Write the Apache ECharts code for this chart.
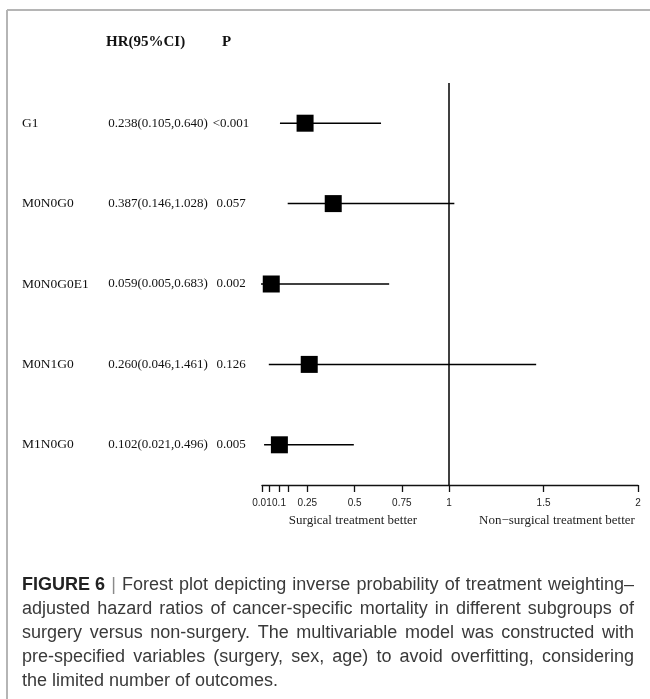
<!DOCTYPE html>
<html>
<head>
<meta charset="utf-8">
<script src="https://cdn.jsdelivr.net/npm/echarts@6/dist/echarts.min.js"></script>
<style>
  html, body { margin: 0; padding: 0; background: #fff; }
  #chart { width: 650px; height: 699px; }
</style>
</head>
<body>
<div id="chart"></div>
<script>
// Subgroups and their IPTW-adjusted hazard ratios
const subgroups = ['G1', 'M0N0G0', 'M0N0G0E1', 'M0N1G0', 'M1N0G0'];
const hazardRatio = [0.238, 0.387, 0.059, 0.260, 0.102];
const ciLower = [0.105, 0.146, 0.005, 0.046, 0.021];
const ciUpper = [0.640, 1.028, 0.683, 1.461, 0.496];
const pValues = ['<0.001', '0.057', '0.002', '0.126', '0.005'];

// x-axis ticks and the subset that carries labels
const tickValues = [0.01, 0.05, 0.1, 0.15, 0.25, 0.5, 0.75, 1, 1.5, 2];
const tickLabels = [0.01, 0.1, 0.25, 0.5, 0.75, 1, 1.5, 2];

const captionLines = [
  ['FIGURE 6', '|', 'Forest plot depicting inverse probability of treatment weighting\u2013'],
  'adjusted hazard ratios of cancer-specific mortality in different subgroups of',
  'surgery versus non-surgery. The multivariable model was constructed with',
  'pre-specified variables (surgery, sex, age) to avoid overfitting, considering',
  'the limited number of outcomes.'
];

const SERIF = '"Liberation Serif", "Times New Roman", serif';
const SANS = '"Liberation Sans", Arial, sans-serif';
const CAP_FONT = SANS;

const chart = echarts.init(document.getElementById('chart'), null, { renderer: 'canvas' });

// ---- caption: justified lines built word by word ----
const measureCtx = document.createElement('canvas').getContext('2d');
const CAP_SIZE = 18;
const CAP_LEFT = 22, CAP_RIGHT = 634, CAP_TOP = 585, CAP_LEAD = 24;
function wordWidth(w, bold) {
  measureCtx.font = (bold ? 'bold ' : '') + CAP_SIZE + 'px ' + CAP_FONT;
  return measureCtx.measureText(w).width;
}
const captionGraphics = [];
captionLines.forEach(function (line, li) {
  const y = CAP_TOP + li * CAP_LEAD;
  const words = [];
  if (Array.isArray(line)) {
    words.push({ t: line[0], bold: true, color: '#222' });
    words.push({ t: line[1], bold: false, color: '#8a8a8a' });
    line[2].split(' ').forEach(function (w) { words.push({ t: w, bold: false, color: '#3a3a3a' }); });
  } else {
    line.split(' ').forEach(function (w) { words.push({ t: w, bold: false, color: '#3a3a3a' }); });
  }
  const widths = words.map(function (w) { return wordWidth(w.t, w.bold); });
  const total = widths.reduce(function (a, b) { return a + b; }, 0);
  const last = li === captionLines.length - 1;
  const gap = last ? wordWidth(' ', false) : (CAP_RIGHT - CAP_LEFT - total) / (words.length - 1);
  let x = CAP_LEFT;
  words.forEach(function (w, i) {
    captionGraphics.push({
      type: 'text', x: x, y: y,
      style: {
        text: w.t, fill: w.color, font: (w.bold ? 'bold ' : '') + CAP_SIZE + 'px ' + CAP_FONT,
        textVerticalAlign: 'middle'
      }
    });
    x += widths[i] + gap;
  });
});

const rows = subgroups.map(function (s, i) {
  return [hazardRatio[i], ciLower[i], ciUpper[i], i];
});

function fmt(v) { return v.toFixed(3); }

const LABEL_FONT = '13.5px ' + SERIF;
const VALUE_FONT = '13px ' + SERIF;

const option = {
  animation: false,
  backgroundColor: '#fff',
  grid: { left: 262, right: 12, top: 83, height: 402 },
  xAxis: {
    type: 'value', min: 0.01, max: 2,
    axisLine: { show: true, lineStyle: { color: '#111', width: 1.3 } },
    axisTick: { show: true, length: 7, customValues: tickValues, lineStyle: { color: '#111', width: 1.3 } },
    axisLabel: {
      customValues: tickLabels, fontFamily: SANS, fontSize: 10, color: '#222', margin: 13,
      formatter: function (v) { return String(v); }
    },
    splitLine: { show: false }
  },
  yAxis: {
    type: 'category', data: subgroups, inverse: true, show: false
  },
  graphic: [
    // frame
    { type: 'line', shape: { x1: 7, y1: 10, x2: 650, y2: 10 }, style: { stroke: '#b5b5b5', lineWidth: 2 } },
    { type: 'line', shape: { x1: 7, y1: 10, x2: 7, y2: 699 }, style: { stroke: '#b5b5b5', lineWidth: 2 } },
    // column headers
    { type: 'text', x: 106, y: 42, style: { text: 'HR(95%CI)', font: 'bold 15px ' + SERIF, fill: '#111', textVerticalAlign: 'middle' } },
    { type: 'text', x: 222, y: 42, style: { text: 'P', font: 'bold 15px ' + SERIF, fill: '#111', textVerticalAlign: 'middle' } },
    // axis captions
    { type: 'text', x: 353, y: 521, style: { text: 'Surgical treatment better', font: '13px ' + SERIF, fill: '#222', textAlign: 'center', textVerticalAlign: 'middle' } },
    { type: 'text', x: 557, y: 521, style: { text: 'Non\u2212surgical treatment better', font: '13px ' + SERIF, fill: '#222', textAlign: 'center', textVerticalAlign: 'middle' } }
  ].concat(captionGraphics),
  series: [
    {
      // row labels, HR (95% CI) and P columns
      type: 'custom',
      data: rows,
      clip: false,
      silent: true,
      renderItem: function (params, api) {
        const i = api.value(3);
        const y = api.coord([1, i])[1];
        const txt = fmt(api.value(0)) + '(' + fmt(api.value(1)) + ',' + fmt(api.value(2)) + ')';
        return {
          type: 'group',
          children: [
            { type: 'text', x: 22, y: y, style: { text: subgroups[i], font: LABEL_FONT, fill: '#111', textVerticalAlign: 'middle' } },
            { type: 'text', x: 158, y: y, style: { text: txt, font: VALUE_FONT, fill: '#111', textAlign: 'center', textVerticalAlign: 'middle' } },
            { type: 'text', x: 231, y: y, style: { text: pValues[i], font: VALUE_FONT, fill: '#111', textAlign: 'center', textVerticalAlign: 'middle' } }
          ]
        };
      }
    },
    {
      // confidence intervals and point estimates
      type: 'custom',
      data: rows,
      clip: false,
      renderItem: function (params, api) {
        const i = api.value(3);
        const c = api.coord([api.value(0), i]);
        const lo = api.coord([api.value(1), i]);
        const hi = api.coord([api.value(2), i]);
        const s = 17;
        return {
          type: 'group',
          children: [
            { type: 'line', shape: { x1: lo[0], y1: c[1], x2: hi[0], y2: c[1] }, style: { stroke: '#000', lineWidth: 1.5 } },
            { type: 'rect', shape: { x: c[0] - s / 2, y: c[1] - s / 2, width: s, height: s }, style: { fill: '#000' } }
          ]
        };
      },
      markLine: {
        silent: true,
        symbol: 'none',
        label: { show: false },
        lineStyle: { color: '#000', width: 1.5, type: 'solid' },
        data: [{ xAxis: 1 }]
      }
    }
  ]
};

chart.setOption(option);
</script>
</body>
</html>
